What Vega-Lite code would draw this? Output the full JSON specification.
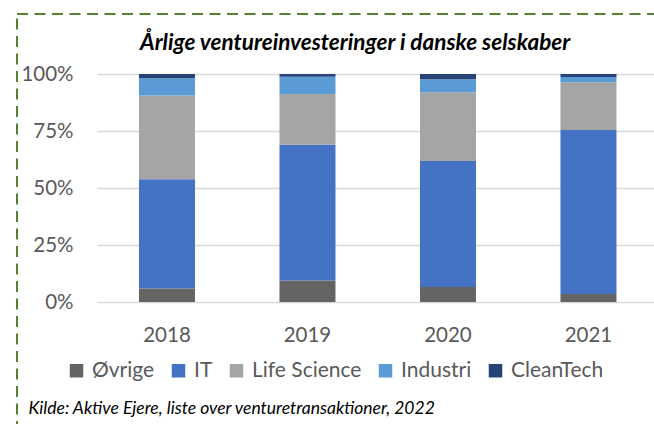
{
  "$schema": "https://vega.github.io/schema/vega-lite/v6.json",
  "width": 638,
  "height": 411,
  "autosize": {"type": "none"},
  "padding": {"left": 17, "top": 14, "right": -1, "bottom": -1},
  "background": "white",
  "title": {
    "text": "Årlige ventureinvesteringer i danske selskaber",
    "anchor": "start",
    "frame": "group",
    "dx": 123,
    "dy": 58,
    "offset": 0,
    "baseline": "alphabetic",
    "font": "Lato",
    "fontSize": 22.5,
    "fontStyle": "italic",
    "fontWeight": "bold",
    "color": "#000000"
  },
  "data": {
    "values": [
      {"aar": "2018", "sektor": "Øvrige", "andel": 5.9},
      {"aar": "2018", "sektor": "IT", "andel": 47.9},
      {"aar": "2018", "sektor": "Life Science", "andel": 36.8},
      {"aar": "2018", "sektor": "Industri", "andel": 7.5},
      {"aar": "2018", "sektor": "CleanTech", "andel": 1.9},
      {"aar": "2019", "sektor": "Øvrige", "andel": 9.4},
      {"aar": "2019", "sektor": "IT", "andel": 59.6},
      {"aar": "2019", "sektor": "Life Science", "andel": 22.2},
      {"aar": "2019", "sektor": "Industri", "andel": 7.6},
      {"aar": "2019", "sektor": "CleanTech", "andel": 1.2},
      {"aar": "2020", "sektor": "Øvrige", "andel": 6.6},
      {"aar": "2020", "sektor": "IT", "andel": 55.2},
      {"aar": "2020", "sektor": "Life Science", "andel": 30.2},
      {"aar": "2020", "sektor": "Industri", "andel": 5.7},
      {"aar": "2020", "sektor": "CleanTech", "andel": 2.3},
      {"aar": "2021", "sektor": "Øvrige", "andel": 3.5},
      {"aar": "2021", "sektor": "IT", "andel": 71.9},
      {"aar": "2021", "sektor": "Life Science", "andel": 21.0},
      {"aar": "2021", "sektor": "Industri", "andel": 2.3},
      {"aar": "2021", "sektor": "CleanTech", "andel": 1.3}
    ]
  },
  "transform": [
    {"calculate": "indexof(['Øvrige','IT','Life Science','Industri','CleanTech'], datum.sektor)", "as": "rk"}
  ],
  "mark": {"type": "bar"},
  "encoding": {
    "x": {
      "field": "aar",
      "type": "nominal",
      "scale": {"range": [80, 637], "paddingInner": 0.6014, "paddingOuter": 0.283, "align": 0.528, "round": false},
      "axis": {
        "orient": "bottom",
        "offset": -123,
        "domain": false,
        "ticks": false,
        "tickSize": 0,
        "labelAngle": 0,
        "labelFont": "Lato",
        "labelFontSize": 20.5,
        "labelColor": "#595959",
        "labelPadding": 23,
        "title": "Kilde: Aktive Ejere, liste over venturetransaktioner, 2022",
        "titleX": 11,
        "titleY": 111,
        "titleAlign": "left",
        "titleAnchor": "start",
        "titleBaseline": "alphabetic",
        "titleFont": "Lato",
        "titleFontSize": 17.5,
        "titleFontStyle": "italic",
        "titleFontWeight": "normal",
        "titleColor": "#000000"
      }
    },
    "y": {
      "field": "andel",
      "type": "quantitative",
      "stack": "normalize",
      "scale": {"domain": [0, 1], "range": [288, 60], "nice": false},
      "axis": {
        "values": [0, 0.25, 0.5, 0.75, 1],
        "format": ".0%",
        "domain": false,
        "ticks": false,
        "tickSize": 0,
        "labelPadding": -56,
        "labelFont": "Lato",
        "labelFontSize": 20.5,
        "labelColor": "#595959",
        "title": null,
        "grid": true,
        "gridColor": "#D9D9D9",
        "gridWidth": 1.5
      }
    },
    "color": {
      "field": "sektor",
      "type": "nominal",
      "scale": {
        "domain": ["Øvrige", "IT", "Life Science", "Industri", "CleanTech"],
        "range": ["#646464", "#4472C4", "#A5A5A5", "#5B9BD5", "#264478"]
      },
      "legend": {
        "orient": "none",
        "legendX": 49,
        "legendY": 346,
        "direction": "horizontal",
        "title": null,
        "symbolType": "square",
        "symbolSize": 182,
        "symbolStrokeWidth": 0,
        "labelFont": "Lato",
        "labelFontSize": 21,
        "labelColor": "#595959",
        "columnPadding": 13,
        "labelOffset": 5,
        "padding": 0
      }
    },
    "order": {"field": "rk", "type": "quantitative"}
  },
  "config": {
    "view": {"stroke": "#548235", "strokeWidth": 2, "strokeDash": [11, 6.5]},
    "font": "Lato"
  }
}
